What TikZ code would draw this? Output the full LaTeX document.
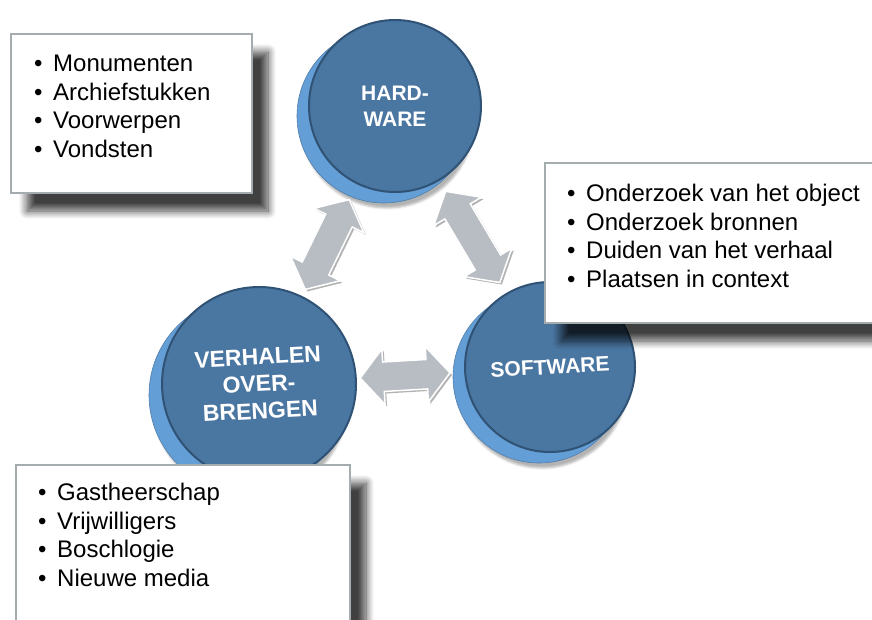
\documentclass[tikz,border=0pt]{standalone}
\usepackage{fontspec}
\setmainfont{Liberation Sans}
\usetikzlibrary{shapes.arrows, shadows, shadows.blur}

\definecolor{faceblue}{RGB}{74, 118, 162}
\definecolor{rimblue}{RGB}{100, 158, 214}
\definecolor{edgeblue}{RGB}{48, 82, 116}
\definecolor{arrowgray}{RGB}{184, 189, 195}
\definecolor{boxgray}{RGB}{165, 172, 176}

\tikzset{
  diskrim/.style={circle, fill=rimblue, draw=rimblue!80!black, line width=0.6pt, inner sep=0pt,
    blur shadow={shadow xshift=3pt, shadow yshift=-5pt, shadow opacity=30}},
  diskface/.style={circle, fill=faceblue, draw=edgeblue, line width=2pt, inner sep=0pt,
    text=white, align=center, font=\fontsize{21}{26}\selectfont\bfseries},
  listbox/.style={anchor=north west, draw=boxgray, line width=2pt, fill=white, inner sep=0pt,
    blur shadow={shadow xshift=16pt, shadow yshift=-18pt, shadow blur steps=10,
      shadow blur radius=8pt, shadow opacity=75}},
  listtext/.style={anchor=north west, align=left, inner sep=0pt,
    font=\fontsize{24}{28.6}\selectfont},
  dblarrow/.style={double arrow, sloped, fill=arrowgray, draw=white, line width=1.5pt,
    inner xsep=0pt, inner ysep=14pt, double arrow head extend=13pt, double arrow tip angle=100,
    drop shadow={shadow xshift=2pt, shadow yshift=-2pt, fill=black!60, opacity=0.5}}
}
\newcommand{\bul}{\makebox[19pt][l]{•}}

\begin{document}
\begin{tikzpicture}[x=1pt, y=-1pt]
  \useasboundingbox (0, 0) rectangle (872, 619);
  \clip (0, 0) rectangle (872, 619);

  % Hardware
  \node[diskrim, minimum size=174pt] (hwrim) at (384, 116) {};
  \node[diskface, minimum size=172pt] (hw) at (395, 106) {HARD-\\WARE};

  % Software
  \node[diskrim, minimum size=172pt] (swrim) at (539, 377) {};
  \node[diskface, minimum size=170pt, rotate=3] (sw) at (550, 367) {SOFTWARE};

  % Verhalen overbrengen
  \node[diskrim, minimum size=196pt] (vorim) at (247, 395) {};
  \node[diskface, minimum size=194pt, rotate=3, font=\fontsize{23}{27}\selectfont\bfseries]
    (vo) at (259, 384) {VERHALEN\\OVER-\\BRENGEN};

  % Arrows
  \path (vo) -- (hw) node[dblarrow, pos=0.46, minimum height=100pt] (vohw) {};
  \path (hw) -- (sw) node[dblarrow, pos=0.5, minimum height=106pt] (hwsw) {};
  \path (vo) -- (sw) node[dblarrow, pos=0.45, minimum height=90pt] (vosw) {};

  % Lists
  \node[listbox, minimum width=241pt, minimum height=159pt] (hwbox) at (10, 33) {};
  \node[listtext] (hwlist) at (34, 55)
    {\bul Monumenten\\\bul Archiefstukken\\\bul Voorwerpen\\\bul Vondsten};

  \node[listbox, minimum width=340pt, minimum height=160pt] (swbox) at (544, 162) {};
  \node[listtext] (swlist) at (567, 184)
    {\bul Onderzoek van het object\\\bul Onderzoek bronnen\\\bul Duiden van het verhaal\\\bul Plaatsen in context};

  \node[listbox, minimum width=334pt, minimum height=200pt] (vobox) at (15, 464) {};
  \node[listtext] (volist) at (38, 483)
    {\bul Gastheerschap\\\bul Vrijwilligers\\\bul Boschlogie\\\bul Nieuwe media};

\end{tikzpicture}
\end{document}
